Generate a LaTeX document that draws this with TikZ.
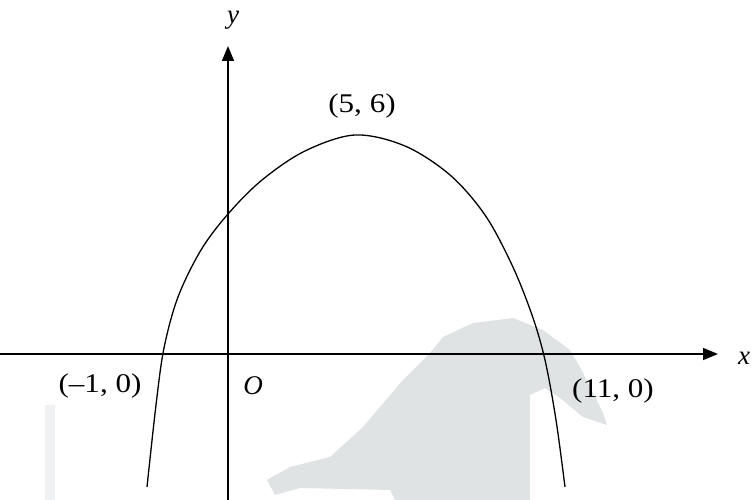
\documentclass[tikz,border=0pt]{standalone}
\usepackage{fontspec}
\setmainfont{Liberation Serif}
\usetikzlibrary{arrows.meta}
\definecolor{wm}{RGB}{223,227,228}
\definecolor{wm2}{RGB}{240,241,242}
\tikzset{
  axis/.style={line width=1.6pt,-{Triangle[length=15pt,width=12pt]}},
  curve/.style={line width=1.3pt},
  lbl/.style={font=\fontsize{27}{29}\selectfont, xscale=1.15},
  var/.style={font=\fontsize{27}{29}\selectfont\itshape}
}
\begin{document}
\begin{tikzpicture}[x=1pt,y=-1pt]
\useasboundingbox (0,0) rectangle (755,500);
% watermark
\fill[wm] (443,337) -- (473,323) -- (513,318) -- (543,330) -- (570,350) -- (580,367) -- (603,413) -- (607,425) -- (583,417) -- (560,398) -- (545,388) -- (530,395) -- (530,500) -- (395,500) -- (390,490) -- (300,488) -- (275,495) -- (267,480) -- (290,467) -- (330,457) -- (363,427) -- (403,380) -- (430,353) -- cycle;
\fill[wm2] (45,405) rectangle (55,500);
% axes
\coordinate (xl) at (0,354);
\coordinate (xr) at (718,354);
\coordinate (yb) at (228,500);
\coordinate (yt) at (228,46);
\draw[axis] (xl) -- (xr);
\draw[axis] (yb) -- (yt);
% curve
\draw[curve] plot[smooth, tension=0.55] coordinates {(147,487) (156,405) (164,348) (178,297) (201,250) (228,214) (262,180) (305,151) (355,135) (405,146) (450,175) (485,215) (512,265) (532,315) (545,360) (556,420) (565,487)};
% labels
\node[var] (y) at (233,20) {y};
\node[var] (x) at (744,358) {x};
\node[var] (o) at (253,386) {O};
\node[lbl] (p1) at (100,386) {(–1, 0)};
\node[lbl] (p2) at (613,391) {(11, 0)};
\node[lbl] (p3) at (362,106) {(5, 6)};
\end{tikzpicture}
\end{document}
